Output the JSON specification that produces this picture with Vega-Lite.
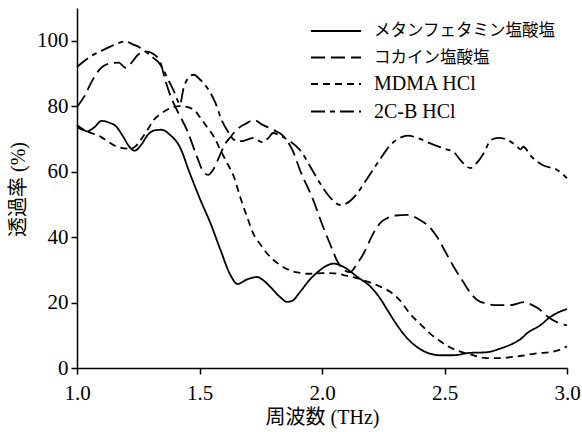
{
  "$schema": "https://vega.github.io/schema/vega-lite/v6.json",
  "width": 490,
  "height": 360,
  "autosize": "none",
  "padding": {"left": 77, "top": 8, "right": 15, "bottom": 64},
  "background": "white",
  "config": {
    "view": {"stroke": null},
    "axis": {
      "grid": false,
      "domainColor": "black",
      "domainWidth": 1.5,
      "tickColor": "black",
      "tickWidth": 1.5,
      "tickSize": 6,
      "labelColor": "black",
      "labelFont": "Liberation Serif",
      "labelFontSize": 21,
      "labelFlush": false,
      "titleColor": "black",
      "titleFont": "Liberation Serif, Noto Sans CJK JP",
      "titleFontSize": 20,
      "titleFontWeight": "normal"
    },
    "legend": {
      "labelFont": "Liberation Serif, Noto Sans CJK JP",
      "labelFontSize": 17,
      "labelColor": "black",
      "labelLimit": 0
    }
  },
  "data": {"values": [
    {"s":"メタンフェタミン塩酸塩","x":1.0,"y":74.2},{"s":"メタンフェタミン塩酸塩","x":1.02,"y":73.2},{"s":"メタンフェタミン塩酸塩","x":1.04,"y":72.3},{"s":"メタンフェタミン塩酸塩","x":1.07,"y":73.5},{"s":"メタンフェタミン塩酸塩","x":1.1,"y":75.5},{"s":"メタンフェタミン塩酸塩","x":1.13,"y":75},{"s":"メタンフェタミン塩酸塩","x":1.16,"y":73.8},{"s":"メタンフェタミン塩酸塩","x":1.19,"y":70.5},{"s":"メタンフェタミン塩酸塩","x":1.215,"y":67.5},{"s":"メタンフェタミン塩酸塩","x":1.235,"y":66.4},{"s":"メタンフェタミン塩酸塩","x":1.26,"y":68},{"s":"メタンフェタミン塩酸塩","x":1.29,"y":71.3},{"s":"メタンフェタミン塩酸塩","x":1.315,"y":72.6},{"s":"メタンフェタミン塩酸塩","x":1.345,"y":72.8},{"s":"メタンフェタミン塩酸塩","x":1.38,"y":71.2},{"s":"メタンフェタミン塩酸塩","x":1.42,"y":67.5},{"s":"メタンフェタミン塩酸塩","x":1.46,"y":59.6},{"s":"メタンフェタミン塩酸塩","x":1.504,"y":51.3},{"s":"メタンフェタミン塩酸塩","x":1.545,"y":44.2},{"s":"メタンフェタミン塩酸塩","x":1.586,"y":36},{"s":"メタンフェタミン塩酸塩","x":1.627,"y":28.3},{"s":"メタンフェタミン塩酸塩","x":1.655,"y":25.7},{"s":"メタンフェタミン塩酸塩","x":1.695,"y":27.1},{"s":"メタンフェタミン塩酸塩","x":1.735,"y":27.8},{"s":"メタンフェタミン塩酸塩","x":1.76,"y":26.8},{"s":"メタンフェタミン塩酸塩","x":1.79,"y":24.7},{"s":"メタンフェタミン塩酸塩","x":1.83,"y":21.6},{"s":"メタンフェタミン塩酸塩","x":1.858,"y":20.2},{"s":"メタンフェタミン塩酸塩","x":1.88,"y":20.6},{"s":"メタンフェタミン塩酸塩","x":1.91,"y":23.2},{"s":"メタンフェタミン塩酸塩","x":1.95,"y":27},{"s":"メタンフェタミン塩酸塩","x":1.99,"y":29.8},{"s":"メタンフェタミン塩酸塩","x":2.02,"y":31.3},{"s":"メタンフェタミン塩酸塩","x":2.047,"y":31.9},{"s":"メタンフェタミン塩酸塩","x":2.07,"y":31.5},{"s":"メタンフェタミン塩酸塩","x":2.09,"y":30.8},{"s":"メタンフェタミン塩酸塩","x":2.145,"y":27.8},{"s":"メタンフェタミン塩酸塩","x":2.2,"y":24.7},{"s":"メタンフェタミン塩酸塩","x":2.235,"y":21.5},{"s":"メタンフェタミン塩酸塩","x":2.267,"y":17.7},{"s":"メタンフェタミン塩酸塩","x":2.3,"y":13.8},{"s":"メタンフェタミン塩酸塩","x":2.334,"y":10.3},{"s":"メタンフェタミン塩酸塩","x":2.365,"y":7.8},{"s":"メタンフェタミン塩酸塩","x":2.4,"y":5.8},{"s":"メタンフェタミン塩酸塩","x":2.44,"y":4.4},{"s":"メタンフェタミン塩酸塩","x":2.48,"y":3.9},{"s":"メタンフェタミン塩酸塩","x":2.537,"y":3.9},{"s":"メタンフェタミン塩酸塩","x":2.6,"y":4.6},{"s":"メタンフェタミン塩酸塩","x":2.67,"y":4.8},{"s":"メタンフェタミン塩酸塩","x":2.73,"y":6},{"s":"メタンフェタミン塩酸塩","x":2.78,"y":7.5},{"s":"メタンフェタミン塩酸塩","x":2.81,"y":8.8},{"s":"メタンフェタミン塩酸塩","x":2.84,"y":10.8},{"s":"メタンフェタミン塩酸塩","x":2.89,"y":13},{"s":"メタンフェタミン塩酸塩","x":2.93,"y":15.5},{"s":"メタンフェタミン塩酸塩","x":2.965,"y":17},{"s":"メタンフェタミン塩酸塩","x":3.0,"y":18},
    {"s":"コカイン塩酸塩","x":1.0,"y":79.8},{"s":"コカイン塩酸塩","x":1.03,"y":83},{"s":"コカイン塩酸塩","x":1.06,"y":87.5},{"s":"コカイン塩酸塩","x":1.09,"y":91},{"s":"コカイン塩酸塩","x":1.13,"y":93},{"s":"コカイン塩酸塩","x":1.17,"y":93.3},{"s":"コカイン塩酸塩","x":1.2,"y":91.7},{"s":"コカイン塩酸塩","x":1.225,"y":93.5},{"s":"コカイン塩酸塩","x":1.25,"y":95.8},{"s":"コカイン塩酸塩","x":1.285,"y":96.7},{"s":"コカイン塩酸塩","x":1.315,"y":95.8},{"s":"コカイン塩酸塩","x":1.34,"y":93.5},{"s":"コカイン塩酸塩","x":1.36,"y":88},{"s":"コカイン塩酸塩","x":1.385,"y":82.5},{"s":"コカイン塩酸塩","x":1.41,"y":78.5},{"s":"コカイン塩酸塩","x":1.45,"y":72.5},{"s":"コカイン塩酸塩","x":1.49,"y":64.5},{"s":"コカイン塩酸塩","x":1.515,"y":60},{"s":"コカイン塩酸塩","x":1.535,"y":59},{"s":"コカイン塩酸塩","x":1.555,"y":60.5},{"s":"コカイン塩酸塩","x":1.575,"y":63.6},{"s":"コカイン塩酸塩","x":1.605,"y":68.5},{"s":"コカイン塩酸塩","x":1.627,"y":70.6},{"s":"コカイン塩酸塩","x":1.65,"y":72.7},{"s":"コカイン塩酸塩","x":1.695,"y":74.9},{"s":"コカイン塩酸塩","x":1.72,"y":75.8},{"s":"コカイン塩酸塩","x":1.76,"y":74.2},{"s":"コカイン塩酸塩","x":1.8,"y":72.8},{"s":"コカイン塩酸塩","x":1.84,"y":71},{"s":"コカイン塩酸塩","x":1.88,"y":66.5},{"s":"コカイン塩酸塩","x":1.91,"y":60.5},{"s":"コカイン塩酸塩","x":1.966,"y":51},{"s":"コカイン塩酸塩","x":2.0,"y":44},{"s":"コカイン塩酸塩","x":2.035,"y":37.5},{"s":"コカイン塩酸塩","x":2.067,"y":32},{"s":"コカイン塩酸塩","x":2.09,"y":30},{"s":"コカイン塩酸塩","x":2.115,"y":29.3},{"s":"コカイン塩酸塩","x":2.14,"y":31.5},{"s":"コカイン塩酸塩","x":2.17,"y":35},{"s":"コカイン塩酸塩","x":2.21,"y":41.2},{"s":"コカイン塩酸塩","x":2.24,"y":44.5},{"s":"コカイン塩酸塩","x":2.267,"y":45.8},{"s":"コカイン塩酸塩","x":2.3,"y":46.6},{"s":"コカイン塩酸塩","x":2.35,"y":46.8},{"s":"コカイン塩酸塩","x":2.4,"y":45.2},{"s":"コカイン塩酸塩","x":2.44,"y":43},{"s":"コカイン塩酸塩","x":2.47,"y":40},{"s":"コカイン塩酸塩","x":2.5,"y":36},{"s":"コカイン塩酸塩","x":2.537,"y":31},{"s":"コカイン塩酸塩","x":2.58,"y":25.9},{"s":"コカイン塩酸塩","x":2.61,"y":22.5},{"s":"コカイン塩酸塩","x":2.635,"y":20.7},{"s":"コカイン塩酸塩","x":2.67,"y":19.7},{"s":"コカイン塩酸塩","x":2.715,"y":19.2},{"s":"コカイン塩酸塩","x":2.77,"y":19.2},{"s":"コカイン塩酸塩","x":2.825,"y":20.1},{"s":"コカイン塩酸塩","x":2.85,"y":19.5},{"s":"コカイン塩酸塩","x":2.88,"y":18.3},{"s":"コカイン塩酸塩","x":2.93,"y":15.2},{"s":"コカイン塩酸塩","x":2.965,"y":13.8},{"s":"コカイン塩酸塩","x":3.0,"y":13},
    {"s":"MDMA HCl","x":1.0,"y":73.5},{"s":"MDMA HCl","x":1.05,"y":72},{"s":"MDMA HCl","x":1.096,"y":70.7},{"s":"MDMA HCl","x":1.13,"y":69},{"s":"MDMA HCl","x":1.165,"y":67.6},{"s":"MDMA HCl","x":1.218,"y":67},{"s":"MDMA HCl","x":1.24,"y":67.8},{"s":"MDMA HCl","x":1.26,"y":69.7},{"s":"MDMA HCl","x":1.29,"y":73},{"s":"MDMA HCl","x":1.313,"y":75.8},{"s":"MDMA HCl","x":1.34,"y":77.6},{"s":"MDMA HCl","x":1.37,"y":79},{"s":"MDMA HCl","x":1.42,"y":80},{"s":"MDMA HCl","x":1.476,"y":79},{"s":"MDMA HCl","x":1.5,"y":76.8},{"s":"MDMA HCl","x":1.53,"y":73.7},{"s":"MDMA HCl","x":1.56,"y":70.5},{"s":"MDMA HCl","x":1.585,"y":66.7},{"s":"MDMA HCl","x":1.61,"y":63},{"s":"MDMA HCl","x":1.64,"y":58.5},{"s":"MDMA HCl","x":1.667,"y":52},{"s":"MDMA HCl","x":1.695,"y":46},{"s":"MDMA HCl","x":1.72,"y":41},{"s":"MDMA HCl","x":1.75,"y":37.6},{"s":"MDMA HCl","x":1.776,"y":35},{"s":"MDMA HCl","x":1.83,"y":31.4},{"s":"MDMA HCl","x":1.87,"y":29.8},{"s":"MDMA HCl","x":1.9,"y":29.2},{"s":"MDMA HCl","x":1.95,"y":28.8},{"s":"MDMA HCl","x":2.0,"y":29},{"s":"MDMA HCl","x":2.05,"y":28.9},{"s":"MDMA HCl","x":2.1,"y":28.2},{"s":"MDMA HCl","x":2.15,"y":27.3},{"s":"MDMA HCl","x":2.2,"y":26},{"s":"MDMA HCl","x":2.24,"y":24.8},{"s":"MDMA HCl","x":2.28,"y":23.2},{"s":"MDMA HCl","x":2.32,"y":20.5},{"s":"MDMA HCl","x":2.36,"y":16.5},{"s":"MDMA HCl","x":2.4,"y":13.5},{"s":"MDMA HCl","x":2.44,"y":10.6},{"s":"MDMA HCl","x":2.48,"y":8.3},{"s":"MDMA HCl","x":2.52,"y":6.4},{"s":"MDMA HCl","x":2.565,"y":5},{"s":"MDMA HCl","x":2.6,"y":4.3},{"s":"MDMA HCl","x":2.67,"y":3},{"s":"MDMA HCl","x":2.72,"y":3},{"s":"MDMA HCl","x":2.757,"y":3.2},{"s":"MDMA HCl","x":2.82,"y":3.8},{"s":"MDMA HCl","x":2.88,"y":4.5},{"s":"MDMA HCl","x":2.93,"y":4.8},{"s":"MDMA HCl","x":2.96,"y":5.3},{"s":"MDMA HCl","x":3.0,"y":6.6},
    {"s":"2C-B HCl","x":1.0,"y":92},{"s":"2C-B HCl","x":1.03,"y":93.8},{"s":"2C-B HCl","x":1.055,"y":95.2},{"s":"2C-B HCl","x":1.09,"y":96.6},{"s":"2C-B HCl","x":1.124,"y":97.8},{"s":"2C-B HCl","x":1.16,"y":99},{"s":"2C-B HCl","x":1.197,"y":99.8},{"s":"2C-B HCl","x":1.23,"y":98.8},{"s":"2C-B HCl","x":1.259,"y":97.8},{"s":"2C-B HCl","x":1.29,"y":96},{"s":"2C-B HCl","x":1.313,"y":94.7},{"s":"2C-B HCl","x":1.335,"y":93.2},{"s":"2C-B HCl","x":1.353,"y":91},{"s":"2C-B HCl","x":1.375,"y":87.7},{"s":"2C-B HCl","x":1.396,"y":84.5},{"s":"2C-B HCl","x":1.412,"y":81.5},{"s":"2C-B HCl","x":1.42,"y":80.5},{"s":"2C-B HCl","x":1.435,"y":85.5},{"s":"2C-B HCl","x":1.455,"y":88.7},{"s":"2C-B HCl","x":1.476,"y":89.6},{"s":"2C-B HCl","x":1.504,"y":88},{"s":"2C-B HCl","x":1.537,"y":85},{"s":"2C-B HCl","x":1.565,"y":81},{"s":"2C-B HCl","x":1.59,"y":75.8},{"s":"2C-B HCl","x":1.62,"y":71.8},{"s":"2C-B HCl","x":1.64,"y":69.8},{"s":"2C-B HCl","x":1.67,"y":69.3},{"s":"2C-B HCl","x":1.72,"y":70.3},{"s":"2C-B HCl","x":1.755,"y":69},{"s":"2C-B HCl","x":1.78,"y":70.2},{"s":"2C-B HCl","x":1.8,"y":71.8},{"s":"2C-B HCl","x":1.83,"y":71},{"s":"2C-B HCl","x":1.86,"y":69.7},{"s":"2C-B HCl","x":1.91,"y":66.6},{"s":"2C-B HCl","x":1.96,"y":60.5},{"s":"2C-B HCl","x":2.0,"y":55.5},{"s":"2C-B HCl","x":2.035,"y":52},{"s":"2C-B HCl","x":2.075,"y":49.8},{"s":"2C-B HCl","x":2.1,"y":50.3},{"s":"2C-B HCl","x":2.14,"y":53},{"s":"2C-B HCl","x":2.18,"y":57.4},{"s":"2C-B HCl","x":2.23,"y":63},{"s":"2C-B HCl","x":2.28,"y":68.2},{"s":"2C-B HCl","x":2.32,"y":70.4},{"s":"2C-B HCl","x":2.35,"y":71},{"s":"2C-B HCl","x":2.4,"y":70},{"s":"2C-B HCl","x":2.44,"y":68.7},{"s":"2C-B HCl","x":2.5,"y":67},{"s":"2C-B HCl","x":2.537,"y":66},{"s":"2C-B HCl","x":2.565,"y":63.5},{"s":"2C-B HCl","x":2.606,"y":61.1},{"s":"2C-B HCl","x":2.63,"y":62.5},{"s":"2C-B HCl","x":2.66,"y":65.6},{"s":"2C-B HCl","x":2.69,"y":69.7},{"s":"2C-B HCl","x":2.72,"y":70.3},{"s":"2C-B HCl","x":2.757,"y":69.7},{"s":"2C-B HCl","x":2.797,"y":67.6},{"s":"2C-B HCl","x":2.81,"y":66.8},{"s":"2C-B HCl","x":2.822,"y":67.6},{"s":"2C-B HCl","x":2.85,"y":65},{"s":"2C-B HCl","x":2.9,"y":62},{"s":"2C-B HCl","x":2.96,"y":60.5},{"s":"2C-B HCl","x":3.0,"y":58}
  ]},
  "mark": {"type": "line", "interpolate": "monotone", "color": "black", "strokeWidth": 1.8},
  "encoding": {
    "x": {
      "field": "x", "type": "quantitative",
      "scale": {"domain": [1, 3], "nice": false, "zero": false},
      "axis": {"values": [1, 1.5, 2, 2.5, 3], "format": ".1f", "title": "周波数 (THz)", "labelPadding": 8, "titleX": 245, "titleY": 49, "titleBaseline": "middle", "titleAlign": "center"}
    },
    "y": {
      "field": "y", "type": "quantitative",
      "scale": {"domain": [0, 110], "nice": false},
      "axis": {"values": [0, 20, 40, 60, 80, 100], "title": "透過率 (%)", "labelPadding": 3, "titleX": -59, "titleY": 181, "titleBaseline": "middle", "titleAlign": "center", "titleAngle": -90}
    },
    "strokeDash": {
      "field": "s", "type": "nominal",
      "scale": {"domain": ["メタンフェタミン塩酸塩", "コカイン塩酸塩", "MDMA HCl", "2C-B HCl"], "range": [[1, 0], [14, 6], [7, 5], [14, 5, 5, 5]]},
      "legend": {
        "title": null,
        "orient": "none",
        "legendX": 248,
        "legendY": 12,
        "symbolType": "M-2.5,0H2.5",
        "symbolSize": 400,
        "symbolStrokeWidth": 2,
        "symbolStrokeColor": "black",
        "labelOffset": 27,
        "rowPadding": 6.5,
        "encode": {
          "labels": {
            "update": {
              "fontSize": {"signal": "test(/HCl/, datum.label) ? 20 : 16.5"}
            }
          }
        }
      }
    }
  }
}
